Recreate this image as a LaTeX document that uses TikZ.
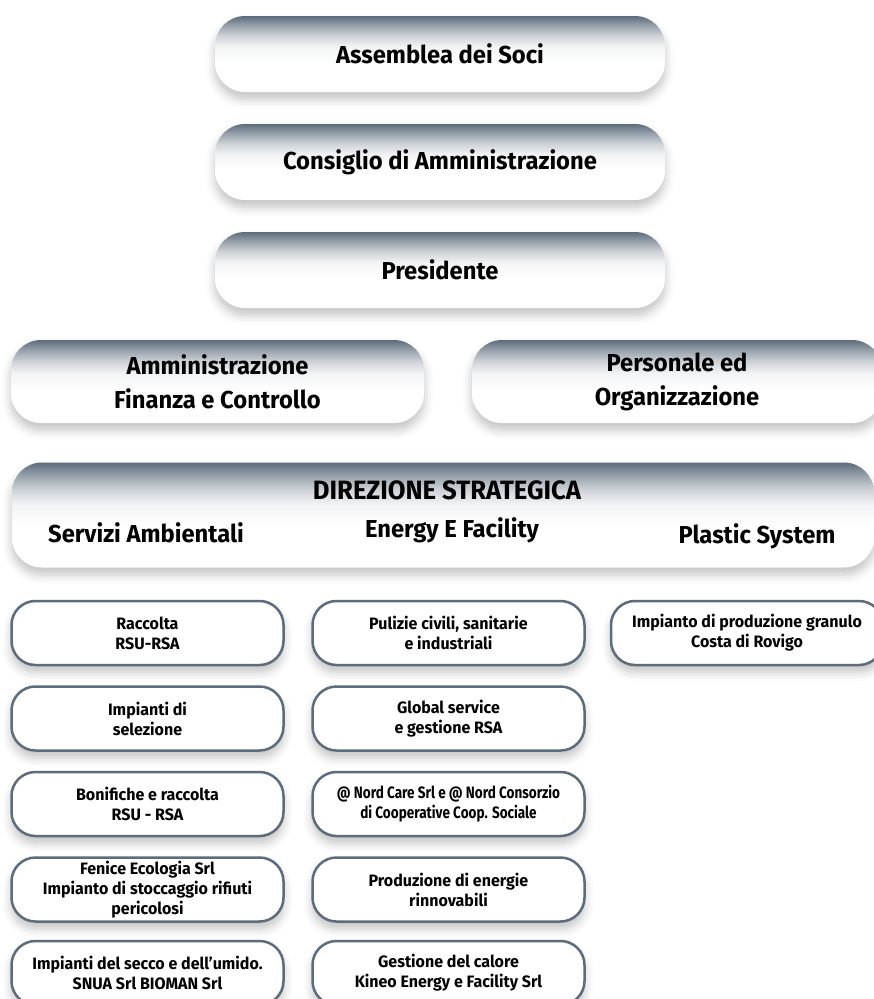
\documentclass[tikz,border=0pt]{standalone}
\usepackage{fontspec}
\setmainfont{Fira Sans}[FakeStretch=0.97]
\usetikzlibrary{positioning, shadows.blur}

\definecolor{slate}{RGB}{93,108,124}
\pgfdeclareverticalshading{boxfade}{100bp}{color(0bp)=(white); color(25bp)=(white); color(45bp)=(white); color(55bp)=(slate!8); color(62bp)=(slate!30); color(69bp)=(slate!65); color(75bp)=(slate); color(100bp)=(slate)}

\begin{document}
\begin{tikzpicture}[x=1pt, y=-1pt,
  shadowed/.style={blur shadow={shadow xshift=0pt, shadow yshift=-7pt, shadow blur radius=9pt, shadow opacity=24}},
  headbox/.style={shadowed, shading=boxfade, rounded corners=30pt, align=center, inner sep=2pt, font=\fontsize{24.5}{34}\selectfont\bfseries},
  unitbox/.style={shadowed, draw=slate, line width=2.5pt, fill=white, rounded corners=24pt, minimum width=272pt, minimum height=64pt, inner sep=1pt, align=center, font=\fontsize{16.5}{20}\selectfont\bfseries},
  areatext/.style={anchor=base, inner sep=0pt, font=\fontsize{24.5}{34}\selectfont\bfseries}
]
  \useasboundingbox (0,0) rectangle (874,999);

  % Organi di vertice
  \node[headbox, minimum width=450pt, minimum height=76pt] (soci) at (440,54) {Assemblea dei Soci};
  \node[headbox, minimum width=450pt, minimum height=76pt] (cda) at (440,162) {Consiglio di Amministrazione};
  \node[headbox, minimum width=450pt, minimum height=76pt] (pres) at (440,270) {Presidente};

  % Staff
  \node[headbox, minimum width=413pt, minimum height=83pt] (afc) at (217.5,381.5) {Amministrazione\\Finanza e Controllo};
  \node[headbox, minimum width=410pt, minimum height=83pt] (pers) at (677,381.5) {Personale ed\\Organizzazione};

  % Direzione strategica
  \node[headbox, minimum width=862pt, minimum height=105pt] (dir) at (443,515) {};
  \node[areatext, font=\fontsize{26.5}{34}\selectfont\bfseries] (dirtitle) at (447,499) {DIREZIONE STRATEGICA};
  \node[areatext] (servizi) at (146,542) {Servizi Ambientali};
  \node[areatext] (energy) at (452,537) {Energy E Facility};
  \node[areatext] (plastic) at (757,543) {Plastic System};

  % Servizi Ambientali
  \node[unitbox] (racc) at (147.5,633) {Raccolta\\RSU-RSA};
  \node[unitbox, below=19pt of racc] (sel) {Impianti di\\selezione};
  \node[unitbox, below=19pt of sel] (bon) {Bonifiche e raccolta\\RSU - RSA};
  \node[unitbox, below=19pt of bon] (fen) {Fenice Ecologia Srl\\Impianto di stoccaggio rifiuti\\pericolosi};
  \node[unitbox, below=17pt of fen] (secco) {Impianti del secco e dell’umido.\\SNUA Srl BIOMAN Srl};

  % Energy E Facility
  \node[unitbox] (pul) at (448.5,633) {Pulizie civili, sanitarie\\e industriali};
  \node[unitbox, below=19pt of pul] (glob) {Global service\\e gestione RSA};
  \node[unitbox, below=19pt of glob, font=\fontsize{16.5}{20}\selectfont\bfseries\addfontfeature{FakeStretch=0.82}] (care) {@ Nord Care Srl e @ Nord Consorzio\\di Cooperative Coop. Sociale};
  \node[unitbox, below=19pt of care] (rinn) {Produzione di energie\\rinnovabili};
  \node[unitbox, below=17pt of rinn] (calore) {Gestione del calore\\Kineo Energy e Facility Srl};

  % Plastic System
  \node[unitbox] (gran) at (747,633) {Impianto di produzione granulo\\Costa di Rovigo};
\end{tikzpicture}
\end{document}
